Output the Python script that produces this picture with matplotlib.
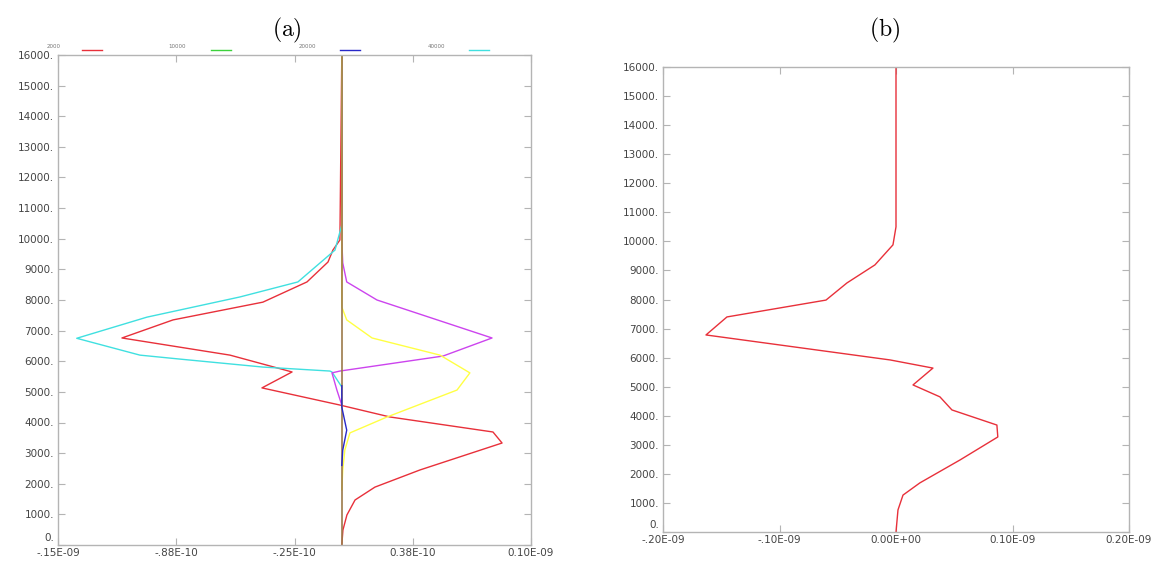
import numpy as np
import matplotlib
matplotlib.use('Agg')
import matplotlib.pyplot as plt
import matplotlib.transforms as mtransforms
from matplotlib.lines import Line2D

plt.rcParams['mathtext.fontset'] = 'cm'

# ---------------- data (x in units of 1e-9, z in m) ----------------
red_a_x = [0.0, -0.001, -0.0047, -0.0073, -0.0184, -0.0417, -0.0892, -0.1162, -0.0591, -0.0263,
           -0.0422, -0.001, 0.0255, 0.0799, 0.0847, 0.0413, 0.0175, 0.007, 0.0027, 0.0006, 0.0]
red_a_z = [16000, 9960, 9630, 9240, 8590, 7930, 7350, 6760, 6200, 5650,
           5130, 4570, 4180, 3690, 3330, 2450, 1890, 1470, 980, 490, 0]

cyan_a_x = [0.0, 0.0, -0.0036, -0.0232, -0.0538, -0.103, -0.1401, -0.1067, -0.0855, -0.0417,
            -0.0063, -0.0052, 0.0]
cyan_a_z = [16000, 10450, 9630, 8590, 8100, 7440, 6750, 6200, 6070, 5810,
            5680, 5650, 5160]

mag_a_x = [0.0, 0.0, 0.0005, 0.0026, 0.0186, 0.0794, 0.0535, -0.001, -0.0052, -0.0026, 0.0]
mag_a_z = [16000, 9960, 9210, 8590, 8000, 6760, 6170, 5680, 5620, 5060, 4570]

yel_a_x = [0.0, 0.0, 0.0026, 0.016, 0.0519, 0.0677, 0.0609, 0.0239, 0.0043, 0.0016, 0.0005, 0.0]
yel_a_z = [16000, 7770, 7350, 6760, 6200, 5620, 5060, 4180, 3660, 3100, 2450, 1800]

blue_a_x = [0.0, 0.0, 0.0026, 0.0005, 0.0]
blue_a_z = [5200, 4500, 3750, 3100, 2600]

zero_a_x = [0.0, 0.0]
zero_a_z = [0, 16000]

red_b_x = [0.0, 0.0, -0.0026, -0.0181, -0.0421, -0.0601, -0.1451, -0.1631, -0.005, 0.0317,
           0.0146, 0.0377, 0.048, 0.0866, 0.0874, 0.055, 0.0205, 0.006, 0.0017, 0.0]
red_b_z = [16000, 10500, 9880, 9190, 8570, 7980, 7400, 6780, 5920, 5640,
           5060, 4650, 4200, 3680, 3270, 2480, 1690, 1270, 760, 0]

a_xticks = [-0.15, -0.0875, -0.025, 0.0375, 0.10]
a_xlabels = ['-.15E-09', '-.88E-10', '-.25E-10', '0.38E-10', '0.10E-09']
b_xticks = [-0.2, -0.1, 0.0, 0.1, 0.2]
b_xlabels = ['-.20E-09', '-.10E-09', '0.00E+00', '0.10E-09', '0.20E-09']
yticks = list(range(0, 16001, 1000))
ylabels = ['%d.' % v for v in yticks]

leg_labels = ['2000', '10000', '20000', '40000']
leg_colors = ['#e8303a', '#3cd23c', '#2828c8', '#40e0e0']

W, H = 1163, 563
fig = plt.figure(figsize=(W / 100, H / 100), dpi=100)

def style(ax, xticks, xlabels, xlim):
    ax.set_xlim(xlim)
    ax.set_ylim(0, 16000)
    ax.set_xticks(xticks)
    ax.set_xticklabels(xlabels)
    ax.set_yticks(yticks)
    ax.set_yticklabels(ylabels)
    for s in ax.spines.values():
        s.set_color('#b4b4b4')
        s.set_linewidth(1.0)
    ax.tick_params(direction='in', length=5, width=0.8, color='#b4b4b4',
                   labelsize=7.5, labelcolor='#444444', top=True, right=True, pad=3)
    ax.tick_params(axis='x', pad=2)
    # the "0." label sits up in the corner
    lbl = ax.get_yticklabels()[0]
    lbl.set_transform(lbl.get_transform() +
                      mtransforms.ScaledTranslation(0, 6 / 72, fig.dpi_scale_trans))

# ---------------- panel (a) ----------------
ax1 = fig.add_axes([58 / W, 18 / H, 473 / W, 490 / H])
style(ax1, a_xticks, a_xlabels, (-0.15, 0.10))
lw = 1.0
ax1.plot(red_a_x, red_a_z, color='#e8303a', lw=lw)
ax1.plot(cyan_a_x, cyan_a_z, color='#40e0e0', lw=lw)
ax1.plot(mag_a_x, mag_a_z, color='#cc44ee', lw=lw)
ax1.plot(yel_a_x, yel_a_z, color='#ffff44', lw=lw)
ax1.plot(zero_a_x, zero_a_z, color='#9c7a4a', lw=1.2)
ax1.plot(blue_a_x, blue_a_z, color='#2828c8', lw=lw)

# legend strip above the frame
lab_x = [47, 168, 299, 428]
seg_x = [82, 211, 340, 469]
for lx, sx, lab, c in zip(lab_x, seg_x, leg_labels, leg_colors):
    fig.text(lx / W, 1 - 47 / H, lab, fontsize=4, color='#777777', va='center')
    fig.add_artist(Line2D([sx / W, (sx + 20) / W], [1 - 50 / H, 1 - 50 / H],
                          transform=fig.transFigure, color=c, lw=1.0))

# ---------------- panel (b) ----------------
ax2 = fig.add_axes([663 / W, 31 / H, 466 / W, 465 / H])
style(ax2, b_xticks, b_xlabels, (-0.2, 0.2))
ax2.plot(red_b_x, red_b_z, color='#e8303a', lw=lw)

fig.text(287 / W, 1 - 30 / H, r'$\mathrm{(a)}$', fontsize=17, ha='center', va='center')
fig.text(885 / W, 1 - 30 / H, r'$\mathrm{(b)}$', fontsize=17, ha='center', va='center')

fig.savefig('out.png', dpi=100)
